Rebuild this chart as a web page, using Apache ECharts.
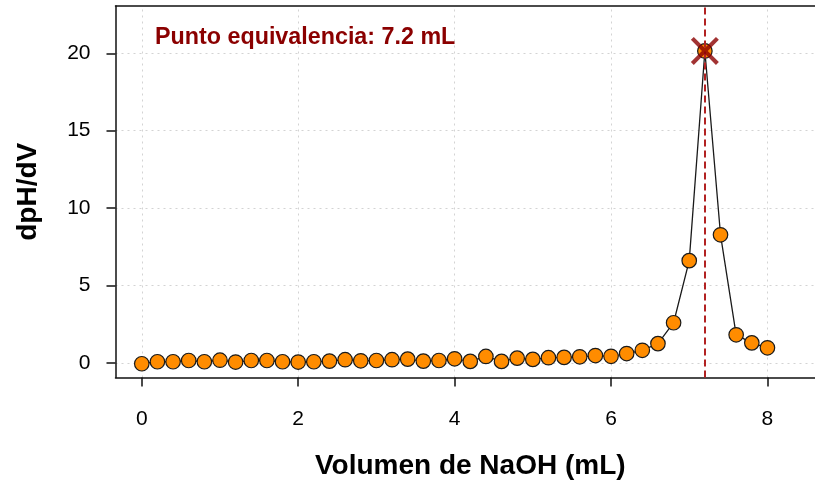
<!DOCTYPE html>
<html>
<head>
<meta charset="utf-8">
<script src="https://cdn.jsdelivr.net/npm/echarts@6/dist/echarts.min.js"></script>
<style>
html,body{margin:0;padding:0;background:#fff;}
#chart{width:815px;height:487px;}
</style>
</head>
<body>
<div id="chart"></div>
<script>
// ---- data ----
const volumes = [0.0, 0.2, 0.4, 0.6, 0.8, 1.0, 1.2, 1.4, 1.6, 1.8,
                 2.0, 2.2, 2.4, 2.6, 2.8, 3.0, 3.2, 3.4, 3.6, 3.8,
                 4.0, 4.2, 4.4, 4.6, 4.8, 5.0, 5.2, 5.4, 5.6, 5.8,
                 6.0, 6.2, 6.4, 6.6, 6.8, 7.0, 7.2, 7.4, 7.6, 7.8, 8.0];
const dpHdV = [-0.06, 0.07, 0.07, 0.15, 0.07, 0.17, 0.05, 0.15, 0.15, 0.07,
               0.05, 0.07, 0.11, 0.20, 0.13, 0.15, 0.20, 0.24, 0.11, 0.15,
               0.26, 0.09, 0.41, 0.09, 0.30, 0.22, 0.33, 0.35, 0.39, 0.47,
               0.42, 0.60, 0.81, 1.24, 2.59, 6.60, 20.15, 8.27, 1.81, 1.29, 0.97];
const xTicks = [0, 2, 4, 6, 8];
const yTicks = [0, 5, 10, 15, 20];
const eqVolume = 7.2;
const eqValue = 20.15;
const xLimits = [0, 8.4];
const xTitle = 'Volumen de NaOH (mL)';
const yTitle = 'dpH/dV';
const annotation = 'Punto equivalencia: ' + eqVolume.toFixed(1) + ' mL';

// ---- layout (pixels) ----
const W = 815, H = 487;
const plotLeft = 115.5, plotTop = 6, plotBottom = 377.5;
const plotRightFull = 825;   // the original plot box extends past the picture's right edge

// R-style 4% axis extension
function extend(lim) { const d = (lim[1] - lim[0]) * 0.04; return [lim[0] - d, lim[1] + d]; }
const xrFull = extend(xLimits);
// visible part of the x range (the picture is cropped at its right edge)
const xr = [xrFull[0], xrFull[0] + (W - plotLeft) / (plotRightFull - plotLeft) * (xrFull[1] - xrFull[0])];
const yr = extend([Math.min(...dpHdV), Math.max(...dpHdV) * 1.1]);

const FONT = '"Liberation Sans", Arial, Helvetica, sans-serif';
const chart = echarts.init(document.getElementById('chart'), null, {renderer: 'canvas'});

const gridLineStyle = {color: '#d3d3d3', width: 1, type: [2, 4]};
const axisColor = '#111';

chart.setOption({
  animation: false,
  backgroundColor: '#fff',
  grid: {left: plotLeft, top: plotTop, right: 0, bottom: H - plotBottom, show: false, containLabel: false},
  xAxis: [{
    type: 'value', min: xr[0], max: xr[1], position: 'bottom',
    axisLine: {show: true, onZero: false, lineStyle: {color: axisColor, width: 1.5}},
    axisTick: {show: true, length: 9, customValues: xTicks, lineStyle: {color: axisColor, width: 1.5}},
    axisLabel: {show: true, customValues: xTicks, fontSize: 21, color: '#000', fontFamily: FONT, margin: 31},
    splitLine: {show: false}
  }, {
    type: 'value', min: xr[0], max: xr[1], position: 'top',
    axisLine: {show: true, onZero: false, lineStyle: {color: axisColor, width: 1.5}},
    axisTick: {show: false}, axisLabel: {show: false}, splitLine: {show: false}
  }],
  yAxis: {
    type: 'value', min: yr[0], max: yr[1],
    axisLine: {show: true, onZero: false, lineStyle: {color: axisColor, width: 1.5}},
    axisTick: {show: true, length: 9, customValues: yTicks, lineStyle: {color: axisColor, width: 1.5}},
    axisLabel: {show: true, customValues: yTicks, fontSize: 21, color: '#000', fontFamily: FONT, margin: 25},
    splitLine: {show: false},
    name: yTitle, nameLocation: 'middle', nameGap: 73, nameRotate: 90,
    nameTextStyle: {fontSize: 28, fontWeight: 'bold', color: '#000', fontFamily: FONT}
  },
  series: [
    {
      // background dotted grid
      type: 'line', data: [], z: 0, silent: true,
      markLine: {
        z: 0, silent: true, symbol: 'none', label: {show: false},
        lineStyle: gridLineStyle,
        data: xTicks.map(v => ({xAxis: v})).concat(yTicks.map(v => ({yAxis: v})))
      }
    },
    {
      type: 'line', z: 3,
      data: volumes.map((v, i) => [v, dpHdV[i]]),
      showSymbol: true, showAllSymbol: true, symbol: 'circle', symbolSize: 14.5,
      lineStyle: {color: '#1a1a1a', width: 1.3},
      itemStyle: {color: '#ff8c00', borderColor: '#1a1a1a', borderWidth: 1.2}
    },
    {
      type: 'line', data: [], z: 6, silent: true,
      markLine: {
        z: 6, silent: true, symbol: 'none', label: {show: false},
        lineStyle: {color: '#b22222', width: 2, type: [7, 4]},
        data: [{xAxis: eqVolume}]
      }
    },
    {
      type: 'scatter', z: 8, silent: true,
      data: [[eqVolume, eqValue]],
      symbol: 'path://M0,2.5 L2.5,0 L12,9.5 L21.5,0 L24,2.5 L14.5,12 L24,21.5 L21.5,24 L12,14.5 L2.5,24 L0,21.5 L9.5,12 Z',
      symbolSize: 28,
      itemStyle: {color: '#8b0000'}
    }
  ],
  graphic: [
    {type: 'text', left: 155, top: 26, z: 10,
     style: {text: annotation, fill: '#8b0000', font: 'bold 23.3px ' + FONT}},
    {type: 'text', x: (plotLeft + plotRightFull) / 2, y: 466, z: 10,
     style: {text: xTitle, fill: '#000', font: 'bold 28px ' + FONT, textAlign: 'center', textVerticalAlign: 'middle'}}
  ]
});
</script>
</body>
</html>
